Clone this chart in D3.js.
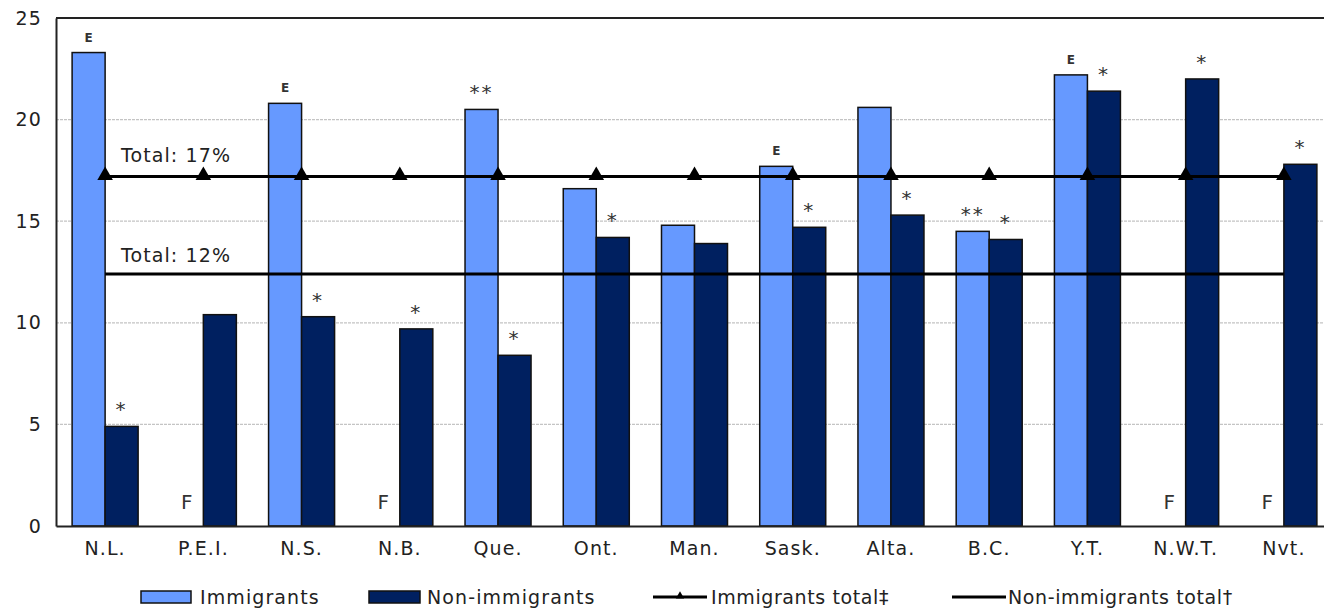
<!DOCTYPE html>
<html>
<head>
<meta charset="utf-8">
<script src="https://cdn.jsdelivr.net/npm/d3@7"></script>
<style>
  html, body { margin: 0; padding: 0; background: #fff; }
  svg { display: block; font-family: Verdana, "DejaVu Sans", sans-serif; }
</style>
</head>
<body>
<svg id="chart" width="1324" height="609"></svg>
<script>
// Provinces and territories
const categories = ["N.L.", "P.E.I.", "N.S.", "N.B.", "Que.", "Ont.", "Man.", "Sask.", "Alta.", "B.C.", "Y.T.", "N.W.T.", "Nvt."];
// Percentages (null = too unreliable to be published, shown as "F")
const immigrants    = [23.3, null, 20.8, null, 20.5, 16.6, 14.8, 17.7, 20.6, 14.5, 22.2, null, null];
const nonImmigrants = [4.9, 10.4, 10.3, 9.7, 8.4, 14.2, 13.9, 14.7, 15.3, 14.1, 21.4, 22.0, 17.8];
// Quality flags printed above each bar
const immigrantFlags    = ["E", "F", "E", "F", "**", "", "", "E", "", "**", "E", "F", "F"];
const nonImmigrantFlags = ["*", "", "*", "*", "*", "*", "", "*", "*", "*", "*", "*", "*"];
// Canada-wide totals
const immigrantsTotal = 17.2;
const nonImmigrantsTotal = 12.4;
const yTicks = [0, 5, 10, 15, 20, 25];

const svg = d3.select("#chart");
const margin = { left: 56, top: 18, bottom: 526, right: 1333 };
const FONT = 19;
const LS = 1.1;

const x = d3.scaleBand().domain(categories).range([margin.left, margin.right]).paddingInner(0).paddingOuter(0);
const step = x.bandwidth();
const barW = step * 0.336;
const y = d3.scaleLinear().domain([0, 25]).range([margin.bottom, margin.top]);

const colImm = "#6699ff";
const colNon = "#002060";

// Gridlines
svg.append("g").selectAll("line").data(yTicks.filter(t => t > 0 && t < 25)).join("line")
  .attr("x1", margin.left).attr("x2", margin.right)
  .attr("y1", d => y(d)).attr("y2", d => y(d))
  .attr("stroke", "#c4c4c4").attr("stroke-width", 1.2).attr("stroke-dasharray", "3,1");

// Frame: top border
svg.append("line").attr("x1", margin.left).attr("x2", margin.right)
  .attr("y1", y(25)).attr("y2", y(25)).attr("stroke", "#222").attr("stroke-width", 2);

// Bars
const center = c => x(c) + step / 2;
const bars = svg.append("g");
categories.forEach((c, i) => {
  if (immigrants[i] != null) {
    bars.append("rect")
      .attr("x", center(c) - barW).attr("width", barW)
      .attr("y", y(immigrants[i])).attr("height", y(0) - y(immigrants[i]))
      .attr("fill", colImm).attr("stroke", "#111").attr("stroke-width", 1.5);
  }
  if (nonImmigrants[i] != null) {
    bars.append("rect")
      .attr("x", center(c)).attr("width", barW)
      .attr("y", y(nonImmigrants[i])).attr("height", y(0) - y(nonImmigrants[i]))
      .attr("fill", colNon).attr("stroke", "#111").attr("stroke-width", 1.5);
  }
});

// Flags above bars
const flagText = (flag, xc, val) => {
  if (!flag) return;
  if (flag === "E") {
    svg.append("text").attr("x", xc).attr("y", y(val) - 11)
      .attr("text-anchor", "middle").attr("font-size", 12).attr("font-weight", "bold")
      .attr("fill", "#333").text("E");
  } else if (flag === "F") {
    svg.append("text").attr("x", xc).attr("y", y(0) - 17)
      .attr("text-anchor", "middle").attr("font-size", 20).attr("fill", "#333").text("F");
  } else {
    svg.append("text").attr("x", xc).attr("y", y(val) - 10)
      .attr("text-anchor", "middle").attr("font-size", 20).attr("fill", "#333")
      .attr("letter-spacing", 2).text(flag);
  }
};
categories.forEach((c, i) => {
  flagText(immigrantFlags[i], center(c) - barW / 2, immigrants[i]);
  flagText(nonImmigrantFlags[i], center(c) + barW / 2, nonImmigrants[i]);
});

// Total reference lines
const first = center(categories[0]), last = center(categories[categories.length - 1]);
svg.append("line").attr("x1", first).attr("x2", last)
  .attr("y1", y(nonImmigrantsTotal)).attr("y2", y(nonImmigrantsTotal))
  .attr("stroke", "#000").attr("stroke-width", 3);
svg.append("line").attr("x1", first).attr("x2", last)
  .attr("y1", y(immigrantsTotal)).attr("y2", y(immigrantsTotal))
  .attr("stroke", "#000").attr("stroke-width", 3);
const tri = d3.symbol().type(d3.symbolTriangle).size(105);
svg.append("g").selectAll("path").data(categories).join("path")
  .attr("d", tri)
  .attr("transform", d => `translate(${center(d)},${y(immigrantsTotal) - 1})`)
  .attr("fill", "#000");

svg.append("text").attr("x", 121).attr("y", y(immigrantsTotal) - 14)
  .attr("font-size", FONT).attr("fill", "#222").attr("letter-spacing", LS)
  .text(`Total: ${Math.round(immigrantsTotal)}%`);
svg.append("text").attr("x", 121).attr("y", y(nonImmigrantsTotal) - 12)
  .attr("font-size", FONT).attr("fill", "#222").attr("letter-spacing", LS)
  .text(`Total: ${Math.round(nonImmigrantsTotal)}%`);

// Axes
const yAxis = d3.axisLeft(y).tickValues(yTicks).tickSize(0).tickPadding(14);
const gy = svg.append("g").attr("transform", `translate(${margin.left},0)`).call(yAxis);
gy.select(".domain").attr("stroke", "#222").attr("stroke-width", 2);
gy.selectAll("text").attr("font-size", FONT).attr("fill", "#222").attr("letter-spacing", LS)
  .attr("font-family", 'Verdana, "DejaVu Sans", sans-serif');

const xAxis = d3.axisBottom(x).tickSize(0).tickPadding(16);
const gx = svg.append("g").attr("transform", `translate(0,${margin.bottom})`).call(xAxis);
gx.select(".domain").attr("stroke", "#222").attr("stroke-width", 2);
gx.selectAll("text").attr("font-size", FONT).attr("fill", "#222").attr("letter-spacing", LS)
  .attr("font-family", 'Verdana, "DejaVu Sans", sans-serif');

// Legend
const legend = svg.append("g").attr("font-size", FONT).attr("fill", "#222").attr("letter-spacing", LS);
const ly = 597;
legend.append("rect").attr("x", 141).attr("y", ly - 6).attr("width", 50).attr("height", 12)
  .attr("fill", colImm).attr("stroke", "#111").attr("stroke-width", 1.5);
legend.append("text").attr("x", 200).attr("y", ly + 7).text("Immigrants");
legend.append("rect").attr("x", 369).attr("y", ly - 6).attr("width", 51).attr("height", 12)
  .attr("fill", colNon).attr("stroke", "#111").attr("stroke-width", 1.5);
legend.append("text").attr("x", 427).attr("y", ly + 7).text("Non-immigrants");
legend.append("line").attr("x1", 653).attr("x2", 707).attr("y1", ly).attr("y2", ly)
  .attr("stroke", "#000").attr("stroke-width", 3);
legend.append("path").attr("d", d3.symbol().type(d3.symbolTriangle).size(30))
  .attr("transform", `translate(680,${ly - 1})`).attr("fill", "#000");
legend.append("text").attr("x", 711).attr("y", ly + 7).attr("letter-spacing", 0.6).text("Immigrants total\u2021");
legend.append("line").attr("x1", 952).attr("x2", 1006).attr("y1", ly).attr("y2", ly)
  .attr("stroke", "#000").attr("stroke-width", 3);
legend.append("text").attr("x", 1008).attr("y", ly + 7).attr("letter-spacing", 0.6).text("Non-immigrants total\u2020");
</script>
</body>
</html>
